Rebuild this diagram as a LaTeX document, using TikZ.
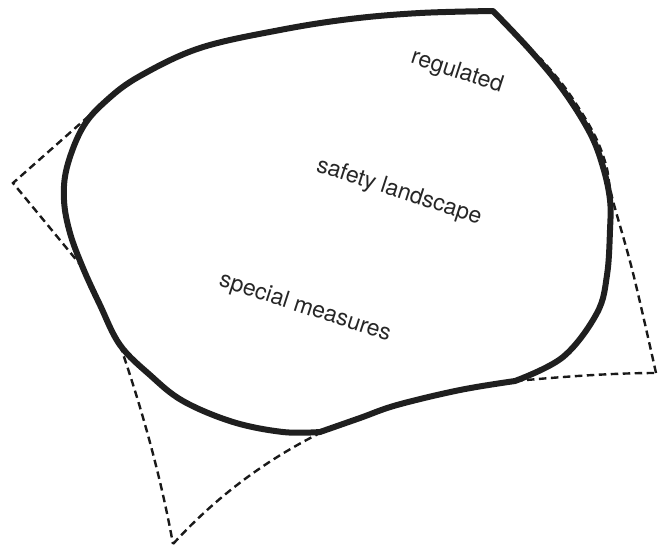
\documentclass[tikz,border=0pt]{standalone}
\usepackage{fontspec}
\setmainfont{TeX Gyre Heros}
\usepackage{tikz}

\begin{document}
\begin{tikzpicture}[x=1pt,y=-1pt,
  outline/.style={line width=6pt,line join=round,color=black!88},
  margin/.style={line width=2.4pt,dash pattern=on 7.5pt off 4.5pt,color=black!90},
  region/.style={rotate=-18,font=\fontsize{23}{26}\selectfont,text=black!85}]
  \useasboundingbox (0,0) rectangle (658,547);

  % Dashed outer margin (visible parts)
  \draw[margin] (107,100) -- (13,183) -- (83,268);
  \draw[margin] (120,345) .. controls (143,412) and (161,478) .. (173,544);
  \draw[margin] (173,544) .. controls (215,498) and (264,461) .. (320,433);
  \draw[margin] (515,381) .. controls (560,377) and (610,373) .. (656,373);
  \draw[margin] plot[smooth,tension=0.6] coordinates
    {(656,373) (633,273) (612,197) (606,165) (593,132) (566,89) (540,58)};

  % Solid safety boundary
  \draw[outline]
    plot[smooth,tension=0.6] coordinates {(493,11) (420,13) (350,19) (280,30)
      (200,48) (140,76) (107,100) (83,127) (67,167) (64,200) (70,233)
      (83,268) (100,305) (120,345) (150,375) (183,401) (233,422) (283,432)
      (320,432)}
    -- plot[smooth,tension=0.6] coordinates {(320,432) (360,418) (397,405)
      (460,390) (515,381)}
    -- plot[smooth,tension=0.6] coordinates {(515,381) (563,357) (597,313)
      (607,275) (610,230) (610,200) (603,167) (590,133) (563,90) (530,50)
      (493,11)}
    -- cycle;

  % Region labels
  \node[region] (regulated) at (457,72) {regulated};
  \node[region] (landscape) at (399,192) {safety landscape};
  \node[region] (special) at (305,308) {special measures};
\end{tikzpicture}
\end{document}
